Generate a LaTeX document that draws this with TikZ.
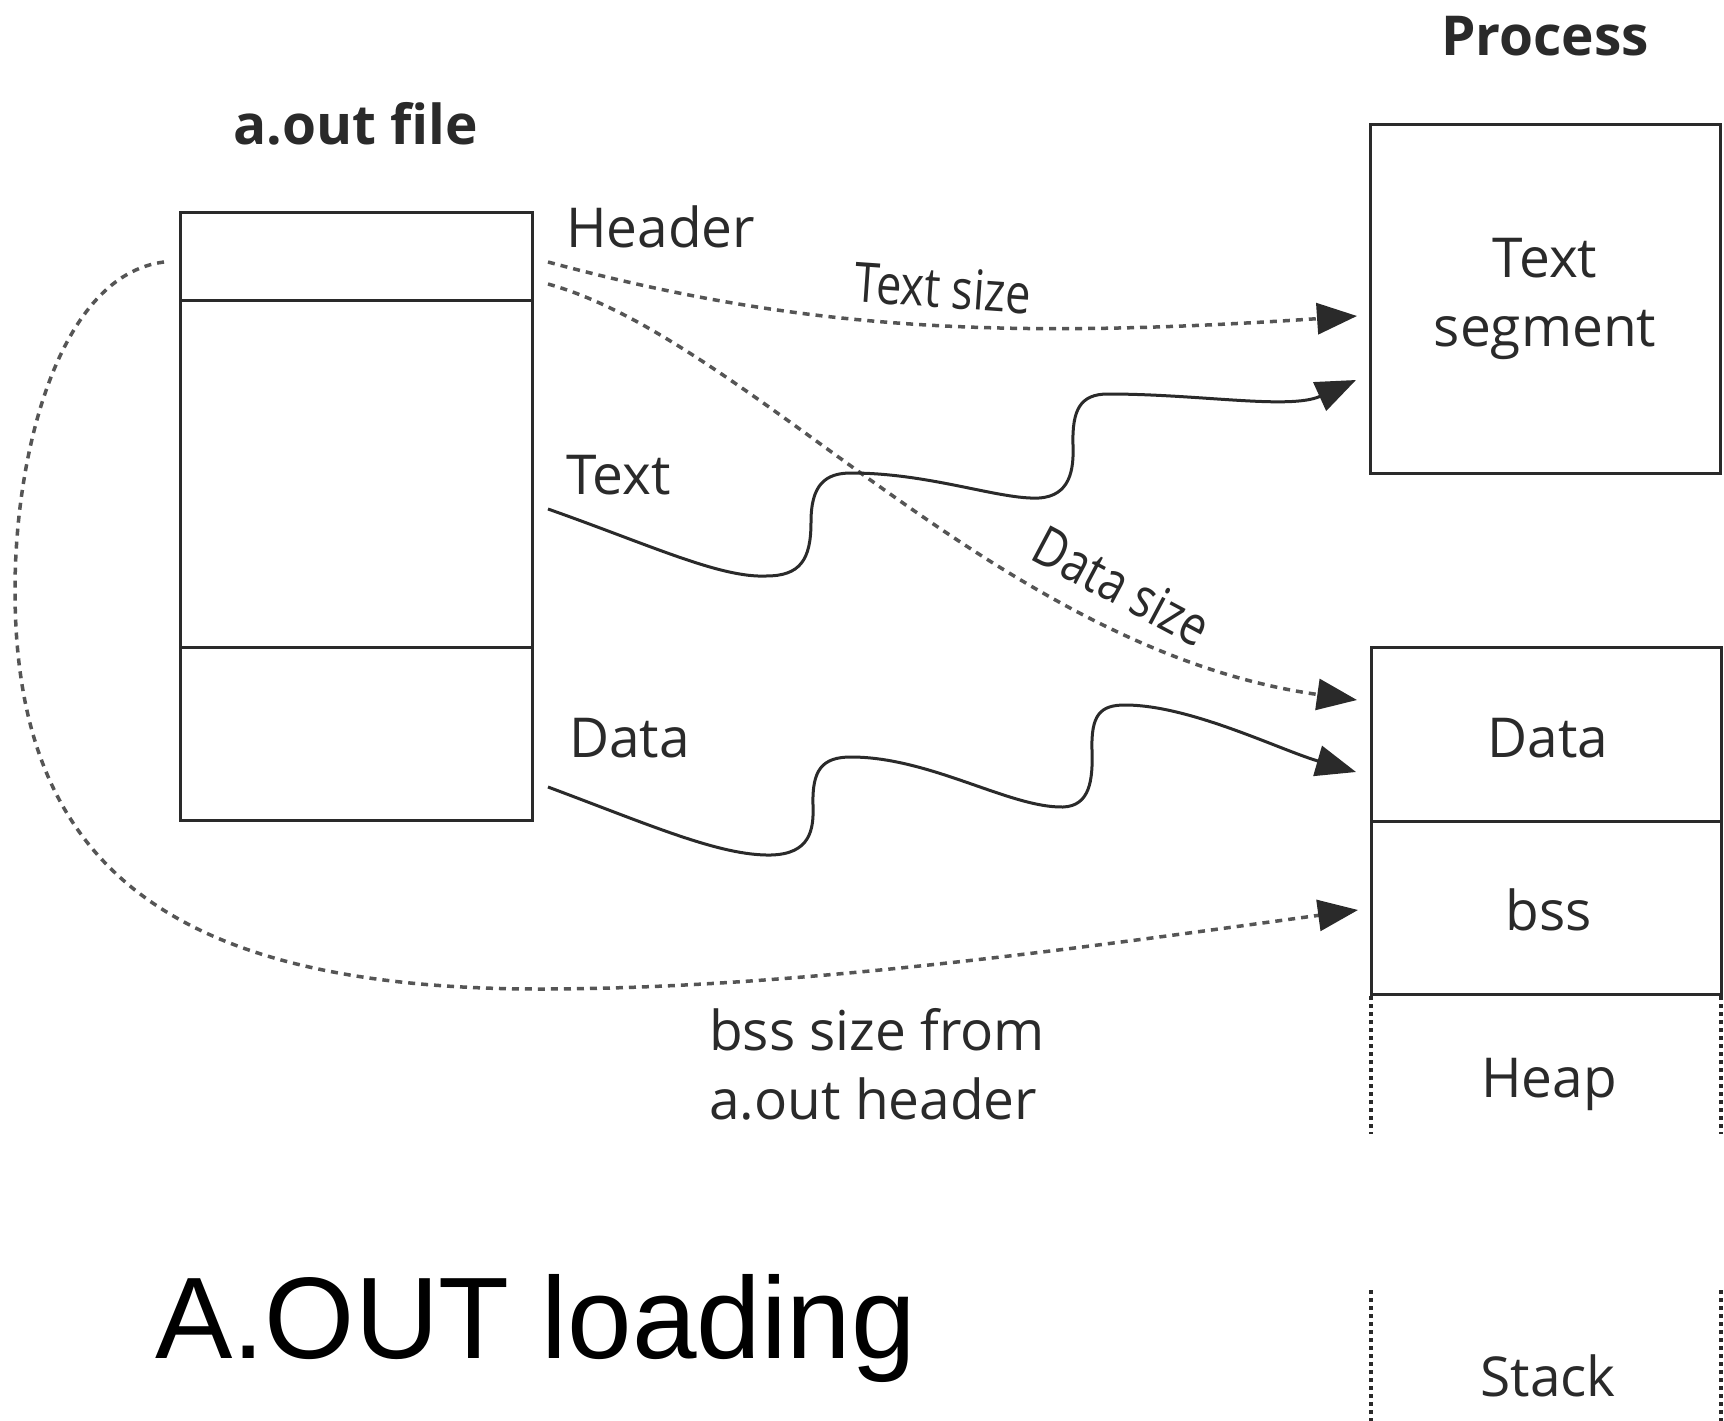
\documentclass[tikz,border=0pt]{standalone}
\usepackage{fontspec}
\setmainfont{Open Sans}
\newfontfamily\condfont[FakeStretch=0.82]{Open Sans}
\newfontfamily\titlefont{Liberation Sans}
\usetikzlibrary{arrows.meta}
\definecolor{ink}{HTML}{2A2A2A}
\definecolor{dotc}{HTML}{555555}
\begin{document}
\begin{tikzpicture}[x=1pt,y=-1pt,
  lbl/.style={inner sep=0pt, text=ink, font=\fontsize{55}{69}\selectfont},
  clbl/.style={inner sep=0pt, text=ink, font=\condfont\fontsize{55}{69}\selectfont},
  ttl/.style={inner sep=0pt, text=ink, font=\fontsize{55}{69}\selectfont\bfseries},
  seg/.style={draw=ink, line width=3pt, inner sep=0pt},
  tipA/.style={-{Triangle[length=40pt,width=31pt,color=ink]}},
  dotline/.style={draw=dotc, line width=3.5pt, dash pattern=on 7pt off 6pt, tipA},
  wave/.style={draw=ink, line width=3pt, tipA},
  side/.style={draw=ink, line width=4.5pt, dash pattern=on 4pt off 4pt}
]
\useasboundingbox (0,0) rectangle (1724,1421);
\fill[white] (0,0) rectangle (1724,1421);

% a.out file
\node[seg, minimum width=352pt, minimum height=88pt] (ahdr) at (356,256) {};
\node[seg, minimum width=352pt, minimum height=347pt] (atext) at (356,473.5) {};
\node[seg, minimum width=352pt, minimum height=173pt] (adata) at (356,733.5) {};
\node[ttl, anchor=base] (afile) at (355.5,144) {a.out file};
\node[lbl, anchor=base west] (lhdr) at (566,247) {Header};
\node[lbl, anchor=base west] (ltext) at (566,494) {Text};
\node[lbl, anchor=base west] (ldata) at (569,757) {Data};

% process
\node[ttl, anchor=base] (proc) at (1545,56) {Process};
\node[seg, minimum width=350pt, minimum height=349pt] (ptext) at (1545,298.5) {};
\node[lbl, align=center, anchor=base] (ptextl) at (1545,346) {Text\\segment};
\node[seg, minimum width=350pt, minimum height=174pt] (pdata) at (1546,734) {};
\node[lbl, anchor=base] (pdatal) at (1548,757) {Data};
\node[seg, minimum width=350pt, minimum height=173pt] (pbss) at (1546,907.5) {};
\node[lbl, anchor=base] (pbssl) at (1549,930) {bss};
\node[lbl, anchor=base] (pheapl) at (1549,1097) {Heap};
\node[lbl, anchor=base] (pstackl) at (1548,1396) {Stack};
\coordinate (hl1) at (1371,996);
\coordinate (hl2) at (1371,1134);
\coordinate (hr1) at (1721,996);
\coordinate (hr2) at (1721,1134);
\coordinate (sl1) at (1371,1290);
\coordinate (sl2) at (1371,1421);
\coordinate (sr1) at (1721,1290);
\coordinate (sr2) at (1721,1421);
\draw[side] (hl1) -- (hl2);
\draw[side] (hr1) -- (hr2);
\draw[side] (sl1) -- (sl2);
\draw[side] (sr1) -- (sr2);

% connector end points
\coordinate (tsA) at (548,262);
\coordinate (tsB) at (1357,316);
\coordinate (dsA) at (548,284);
\coordinate (dsB) at (1357,700);
\coordinate (twA) at (548,509);
\coordinate (twB) at (1356,380);
\coordinate (dwA) at (548,787);
\coordinate (dwB) at (1356,772);
\coordinate (bsA) at (164,262);
\coordinate (bsB) at (1358,910);

% Text size
\draw[dotline] (tsA) .. controls (800,330) and (1000,340) .. (tsB);
\node[clbl, rotate=-4] (tsl) at (943,288) {Text size};
% Data size
\draw[dotline] (dsA) .. controls (750,340) and (1000,650) .. (dsB);
\node[clbl, rotate=-28] (dsl) at (1122,586) {Data size};
% Text wave
\draw[wave] (twA) .. controls (650,545) and (720,578) .. (766,576)
  .. controls (800,576) and (811,560) .. (811,522)
  .. controls (811,485) and (825,473) .. (851,473)
  .. controls (930,473) and (1000,500) .. (1039,498)
  .. controls (1070,496) and (1074,470) .. (1073,445)
  .. controls (1072,410) and (1080,394) .. (1108,394)
  .. controls (1200,394) and (1290,410) .. (twB);
% Data wave
\draw[wave] (dwA) .. controls (650,825) and (720,856) .. (771,855)
  .. controls (810,854) and (814,830) .. (813,805)
  .. controls (812,770) and (822,757) .. (851,757)
  .. controls (930,757) and (1010,808) .. (1063,807)
  .. controls (1090,806) and (1093,780) .. (1092,750)
  .. controls (1091,715) and (1100,705) .. (1125,705)
  .. controls (1190,705) and (1280,750) .. (dwB);
% bss size
\draw[dotline] (bsA) .. controls (60,275) and (15,450) .. (15,590)
  .. controls (15,850) and (150,989) .. (540,989)
  .. controls (800,989) and (1100,945) .. (bsB);
\node[lbl, align=left, anchor=base west] (bssl) at (709,1119) {bss size from\\a.out header};

% title
\node[inner sep=0pt, anchor=base west, font=\titlefont\fontsize{116}{120}\selectfont] (title) at (155,1358) {A.OUT loading};
\end{tikzpicture}
\end{document}
